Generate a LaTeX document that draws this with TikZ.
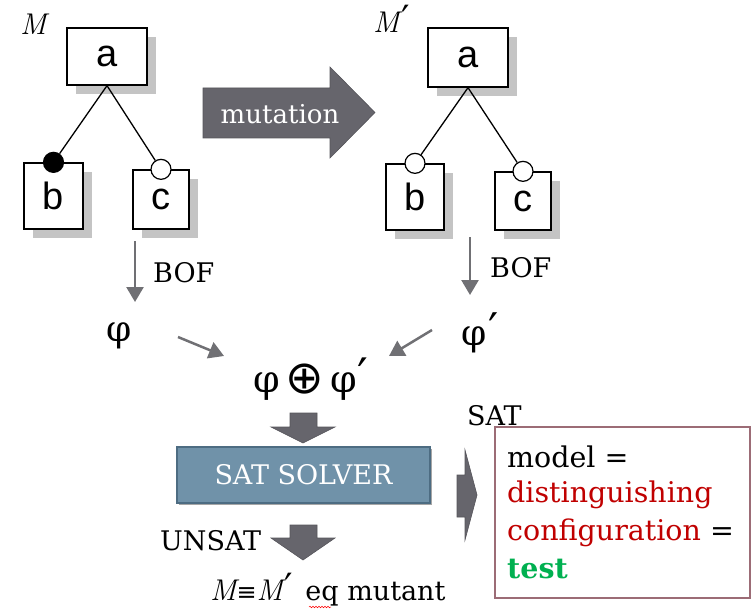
\documentclass[tikz,border=0pt]{standalone}
\usepackage{fontspec}
\setmainfont{DejaVu Serif}
\newfontfamily\sansfnt{Liberation Sans}
\newfontfamily\symfnt{DejaVu Sans}
\newfontfamily\lmfnt{Latin Modern Roman}
\usetikzlibrary{arrows.meta,shadows,decorations.pathmorphing}

\definecolor{shadowgrey}{HTML}{C4C4C4}
\definecolor{arrowgrey}{HTML}{707074}
\definecolor{blockgrey}{HTML}{66656C}
\definecolor{blockedge}{HTML}{55545A}
\definecolor{solverblue}{HTML}{7092A9}
\definecolor{solveredge}{HTML}{4D6C82}
\definecolor{resedge}{HTML}{9C6C76}
\definecolor{darkred}{HTML}{C00000}
\definecolor{testgreen}{HTML}{00B050}

\newcommand\setfs[1]{\fontsize{#1}{#1}\selectfont}
\newcommand\itM{{\lmfnt\itshape M}}
\newcommand\prm{{\symfnt\scalebox{1.25}{′}}}

\begin{document}
\begin{tikzpicture}[x=1pt,y=-1pt,
  feat/.style={draw=black, line width=1.3pt, fill=white, inner sep=0pt,
    font=\sansfnt\setfs{38},
    drop shadow={shadow xshift=9pt, shadow yshift=-9pt, fill=shadowgrey, opacity=1}},
  mandc/.style={circle, draw=black, line width=1.2pt, fill=black, minimum size=20pt, inner sep=0pt},
  optc/.style={mandc, fill=white},
  edge/.style={draw=black, line width=1.3pt},
  garrow/.style={draw=arrowgrey, line width=2.5pt, -{Triangle[length=15pt,width=17pt]}},
  blockarrow/.style={fill=blockgrey, draw=blockedge, line width=0.6pt, line join=miter},
  lbl/.style={inner sep=0pt, font=\setfs{27}},
  mlbl/.style={inner sep=0pt, font=\setfs{30}}
]
\useasboundingbox (0,0) rectangle (751,612);

% ---------- feature model M ----------
\node[mlbl, anchor=base west] (mname) at (20,35) {\itM};
\node[feat, minimum width=80pt, minimum height=57pt] (aM) at (107,56.5) {a};
\node[feat, minimum width=59pt, minimum height=66pt] (bM) at (53.5,196) {b};
\node[feat, minimum width=56pt, minimum height=59pt] (cM) at (161,199.5) {c};
\node[mandc] (mbM) at (bM.north) {};
\node[optc]  (ocM) at (cM.north) {};
\draw[edge] (aM.south) -- (mbM);
\draw[edge] (aM.south) -- (ocM);

% ---------- feature model M' ----------
\node[mlbl, anchor=base west] (mname2) at (373,33) {\itM\kern2pt\prm};
\node[feat, minimum width=80pt, minimum height=59pt] (aM2) at (468,57.5) {a};
\node[feat, minimum width=58pt, minimum height=66pt] (bM2) at (415,197) {b};
\node[feat, minimum width=56pt, minimum height=58pt] (cM2) at (523,201) {c};
\node[optc] (obM2) at (bM2.north) {};
\node[optc] (ocM2) at (cM2.north) {};
\draw[edge] (aM2.south) -- (obM2);
\draw[edge] (aM2.south) -- (ocM2);

% ---------- mutation arrow ----------
\draw[blockarrow] (203,88) -- (330,88) -- (330,67) -- (375,112.5) -- (330,158)
  -- (330,138) -- (203,138) -- cycle;
\node[lbl, text=white, font=\setfs{26}] (mut) at (280,114) {mutation};

% ---------- BOF translation ----------
\coordinate (bofLs) at (135,241);
\coordinate (bofLe) at (135,302);
\coordinate (bofRs) at (470,237);
\coordinate (bofRe) at (470,295);
\draw[garrow] (bofLs) -- (bofLe);
\draw[garrow] (bofRs) -- (bofRe);
\node[lbl, anchor=base west] (bofL) at (153,282) {BOF};
\node[lbl, anchor=base west] (bofR) at (490,277) {BOF};

\node[lbl, font=\setfs{36}] (phiL) at (119,336) {φ};
\node[lbl, font=\setfs{36}] (phiR) at (480,333) {φ\kern1pt\prm};
\node[lbl, font=\setfs{38}] (xor) at (311,379)
  {φ\hspace{6pt}\raisebox{-1pt}{\symfnt\setfs{46}⊕}\hspace{6pt}φ\kern1pt\prm};

\coordinate (dLs) at (178,337);
\coordinate (dLe) at (224,356);
\coordinate (dRs) at (432,330);
\coordinate (dRe) at (389,356);
\draw[garrow] (dLs) -- (dLe);
\draw[garrow] (dRs) -- (dRe);

% ---------- solver ----------
\draw[blockarrow] (290,413) -- (317,413) -- (317,427) -- (335,427) -- (303,443)
  -- (271,427) -- (290,427) -- cycle;
\node[draw=solveredge, fill=solverblue, line width=1.2pt, minimum width=253pt,
  minimum height=56pt, text=white, font=\setfs{27},
  drop shadow={shadow xshift=2pt, shadow yshift=-2pt, fill=gray!70, opacity=1}]
  (solver) at (303.5,475) {SAT SOLVER};

\node[lbl, anchor=base west] (unsat) at (160,550) {UNSAT};
\draw[blockarrow] (290,525) -- (317,525) -- (317,538) -- (335,538) -- (303,560)
  -- (271,538) -- (290,538) -- cycle;
\node[lbl, anchor=base west] (eqm) at (210,600)
  {{\setfs{30}\itM{\symfnt\setfs{24}≡}\itM\kern2pt\prm}\hspace{12pt}eq mutant};
\draw[red, line width=0.5pt, decorate, decoration={snake, amplitude=0.8pt, segment length=3pt}]
  (309,607) -- (331,607);

% ---------- SAT branch ----------
\node[lbl, anchor=base west] (sat) at (467,425) {SAT};
\draw[blockarrow] (457,475) -- (465,475) -- (465,450) -- (477,495) -- (465,540)
  -- (465,517) -- (457,517) -- cycle;
\node[draw=resedge, line width=1.5pt, minimum width=255pt, minimum height=171pt,
  inner sep=0pt] (res) at (622.5,512.5) {};
\node[lbl, anchor=base west, font=\setfs{28.5}] (r1) at (507,467) {model =};
\node[lbl, anchor=base west, font=\setfs{28.5}, text=darkred] (r2) at (507,502) {distinguishing};
\node[lbl, anchor=base west, font=\setfs{28.5}] (r3) at (507,540) {\textcolor{darkred}{configuration} =};
\node[lbl, anchor=base west, text=testgreen, font=\setfs{28.5}\bfseries] (r4) at (507,578) {test};
\end{tikzpicture}
\end{document}
